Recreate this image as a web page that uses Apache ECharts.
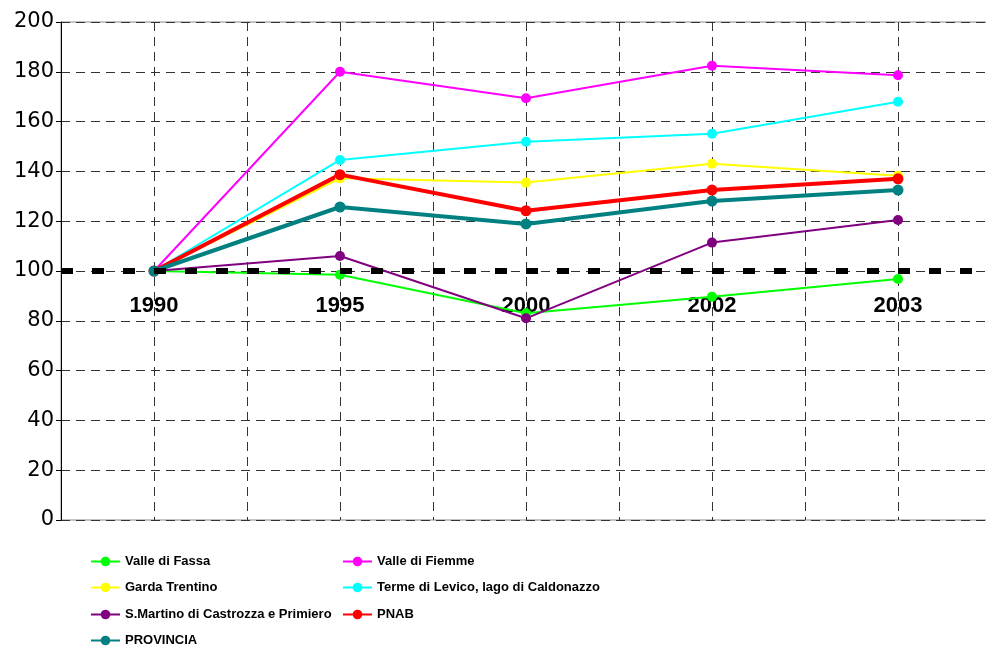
<!DOCTYPE html>
<html>
<head>
<meta charset="utf-8">
<script src="https://cdn.jsdelivr.net/npm/echarts@6/dist/echarts.min.js"></script>
<style>
  html, body { margin: 0; padding: 0; background: #fff; }
  #chart { width: 986px; height: 647px; }
</style>
</head>
<body>
<div id="chart"></div>
<script type="text/javascript">
  // categories and values
  var years = ['1990', '1995', '2000', '2002', '2003'];
  var valleFassa = [100, 98.5, 83, 89.7, 96.8];
  var valleFiemme = [100, 180, 169.4, 182.4, 178.6];
  var gardaTrentino = [100, 137.2, 135.5, 143.1, 138.3];
  var termeLevico = [100, 144.6, 151.9, 155.1, 168];
  var sMartino = [100, 106, 81, 111.4, 120.5];
  var pnab = [100, 138.7, 124.2, 132.5, 137];
  var provincia = [100, 125.7, 118.9, 128.1, 132.5];
  var baseLine = 100;

  var myChart = echarts.init(document.getElementById('chart'));

  function line(name, data, color, width, size) {
    return {
      name: name,
      type: 'line',
      data: data,
      xAxisIndex: 0,
      symbol: 'circle',
      symbolSize: size,
      itemStyle: { color: color },
      lineStyle: { color: color, width: width },
      animation: false
    };
  }

  var series = [
    line('Valle di Fassa', valleFassa, '#00ff00', 2, 10),
    line('Valle di Fiemme', valleFiemme, '#ff00ff', 2, 10),
    line('Garda Trentino', gardaTrentino, '#ffff00', 2, 10),
    line('Terme di Levico, lago di Caldonazzo', termeLevico, '#00ffff', 2, 10),
    line('S.Martino di Castrozza e Primiero', sMartino, '#800080', 2, 10),
    line('PNAB', pnab, '#ff0000', 4, 11),
    line('PROVINCIA', provincia, '#008080', 4, 11)
  ];
  // thick dashed reference line at 100
  series[0].markLine = {
    silent: true,
    symbol: ['none', 'none'],
    label: { show: false },
    lineStyle: { color: '#000', width: 6, type: [12, 19] },
    data: [{ yAxis: baseLine }]
  };

  // legend laid out as two columns, one legend per entry
  var legendCells = [
    ['Valle di Fassa', 90, 560],
    ['Valle di Fiemme', 342, 560],
    ['Garda Trentino', 90, 586],
    ['Terme di Levico, lago di Caldonazzo', 342, 586],
    ['S.Martino di Castrozza e Primiero', 90, 613],
    ['PNAB', 342, 613],
    ['PROVINCIA', 90, 639]
  ];
  var legends = legendCells.map(function (c) {
    return {
      left: c[1], top: c[2] - 5,
      padding: 0,
      itemWidth: 29, itemHeight: 12, itemGap: 0,
      textStyle: {
        fontFamily: '"Liberation Sans", Arial, sans-serif',
        fontWeight: 'bold',
        fontSize: 13,
        color: '#000'
      },
      data: [c[0]]
    };
  });

  var option = {
    animation: false,
    grid: {
      left: 61, top: 22, width: 930, bottom: 127,
      outerBoundsMode: 'none',
      containLabel: false,
      show: true, borderColor: '#888', borderWidth: 1
    },
    legend: legends,
    xAxis: [
      {
        type: 'category',
        data: years,
        boundaryGap: true,
        axisLine: { show: false },
        axisTick: { show: false },
        splitLine: { show: false },
        axisLabel: {
          margin: -225,
          fontFamily: '"Liberation Sans", Arial, sans-serif',
          fontWeight: 'bold',
          fontSize: 22,
          color: '#000'
        }
      },
      {
        // half-band grid: lines at every category and every band edge
        type: 'value',
        min: 0, max: 10, interval: 1,
        position: 'top',
        axisLine: { show: false },
        axisTick: { show: false },
        axisLabel: { show: false },
        splitLine: { show: true, lineStyle: { color: '#333', width: 1, type: [9, 6] } }
      }
    ],
    yAxis: {
      type: 'value',
      min: 0, max: 200, interval: 20,
      axisLine: { show: true, lineStyle: { color: '#000', width: 1 } },
      axisTick: { show: true, length: 5, lineStyle: { color: '#000' } },
      axisLabel: {
        margin: 7,
        fontFamily: '"DejaVu Sans", sans-serif',
        fontSize: 21,
        color: '#000'
      },
      splitLine: { show: true, lineStyle: { color: '#333', width: 1, type: [9, 6] } }
    },
    series: series
  };

  myChart.setOption(option);

  window.onresize = function () {
    myChart.resize();
  };
</script>
</body>
</html>
